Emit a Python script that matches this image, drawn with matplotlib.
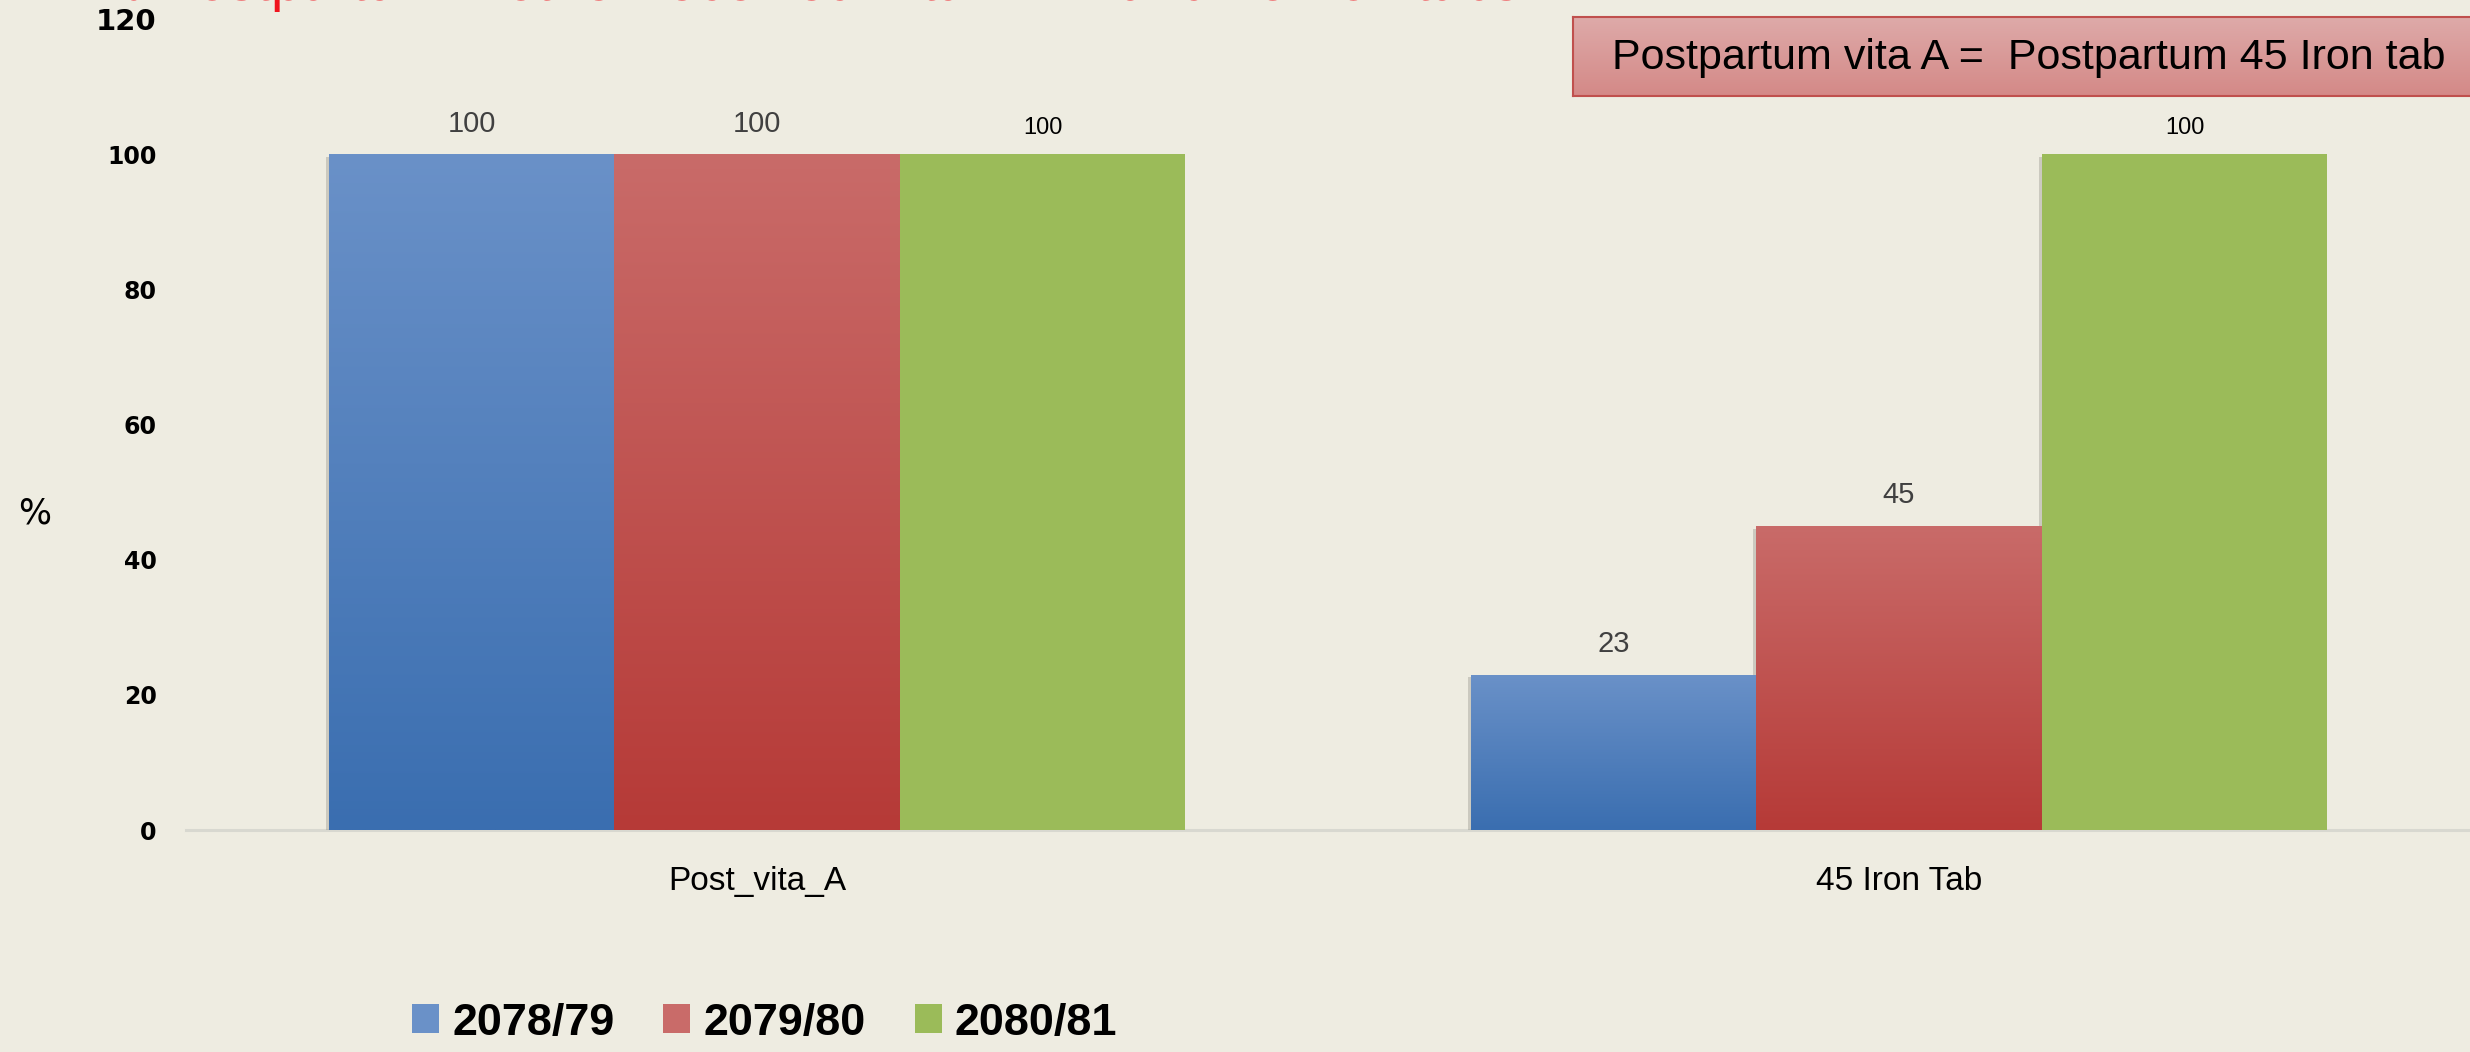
"""Postpartum vitamin A / 45 iron tab coverage by fiscal year - grouped bars."""

import numpy as np
import matplotlib
matplotlib.use("Agg")
import matplotlib.pyplot as plt
from matplotlib.colors import LinearSegmentedColormap
from matplotlib.patches import Patch
import matplotlib.patheffects as pe

# === DATA ===
categories = ["Post_vita_A", "45 Iron Tab"]
years = ["2078/79", "2079/80", "2080/81"]
vals_7879 = [100, 23]
vals_7980 = [100, 45]
vals_8081 = [100, 100]
yticks = [0, 20, 40, 60, 80, 100, 120]
title = "4.  % Postpartum mother received Vitamin A and 45 Iron tabs."
note = "Postpartum vita A =  Postpartum 45 Iron tab"

# === STYLE ===
BG = "#EEECE1"
FONT = "Liberation Sans"
# (top, bottom) of each bar gradient; green is flat
GRAD = [("#6A91C8", "#3A6EB0"), ("#C96B69", "#B63A37"), ("#9BBB59", "#9BBB59")]
W, H = 2470, 1052

fig = plt.figure(figsize=(W / 100, H / 100), dpi=100, facecolor=BG)
ax = fig.add_axes([186 / W, 1 - 830 / H, (W - 186) / W, 811 / H])
ax.set_facecolor(BG)

x = np.arange(len(categories))
width = 0.25
series = [vals_7879, vals_7980, vals_8081]


def gradient_fill(bar, top, bottom):
    x0, y0 = bar.get_x(), bar.get_y()
    w, h = bar.get_width(), bar.get_height()
    cmap = LinearSegmentedColormap.from_list("g", [bottom, top])
    img = ax.imshow(np.linspace(0, 1, 256).reshape(-1, 1), cmap=cmap,
                    extent=[x0, x0 + w, y0, y0 + h], origin="lower",
                    aspect="auto", zorder=3, interpolation="bilinear")
    img.set_clip_path(bar)


shadow = [pe.SimplePatchShadow(offset=(-2, -2), shadow_rgbFace="#8a8a80", alpha=0.35),
          pe.Normal()]
for i, vals in enumerate(series):
    top, bottom = GRAD[i]
    bars = ax.bar(x + (i - 1) * width, vals, width, color=top, linewidth=0,
                  zorder=2, path_effects=shadow)
    for bar, v in zip(bars, vals):
        if top != bottom:
            gradient_fill(bar, top, bottom)
        if i == 2:
            ax.annotate(f"{v}", (bar.get_x() + bar.get_width() / 2, v),
                        xytext=(0, 19), textcoords="offset points", ha="center",
                        va="center", fontsize=17, family=FONT, color="black")
        else:
            ax.annotate(f"{v}", (bar.get_x() + bar.get_width() / 2, v),
                        xytext=(0, 22), textcoords="offset points", ha="center",
                        va="center", fontsize=21, family=FONT, color="#404040")

ax.set_xlim(-0.5, 1.5)
ax.set_ylim(0, 120)
ax.set_xticks(x)
ax.set_xticklabels(categories, family=FONT, fontsize=24)
ax.set_yticks(yticks)
ax.set_yticklabels([str(t) for t in yticks], family="DejaVu Sans",
                   fontweight="bold", fontsize=17)
ax.get_yticklabels()[-1].set_family("Liberation Sans Narrow")
ax.get_yticklabels()[-1].set_fontsize(21)
ax.tick_params(axis="y", length=0, pad=21)
ax.tick_params(axis="x", length=0, pad=26)
for s in ["top", "right", "left"]:
    ax.spines[s].set_visible(False)
ax.spines["bottom"].set_color("#D8D8D0")
ax.spines["bottom"].set_linewidth(2.2)
ax.spines["bottom"].set_zorder(1)

fig.text(35 / W, 1 - 513 / H, "%", family="DejaVu Sans", fontsize=25,
         ha="center", va="center")

# red heading, mostly cut off at the top edge (as in the source slide)
fig.text(18 / W, 1.0, title, family=FONT, fontsize=40,
         color="#F0141E", ha="left", va="baseline")

# note box top-right
bax = fig.add_axes([1573 / W, 1 - 96 / H, (W - 1573) / W + 0.01, 79 / H])
bax.imshow(np.linspace(0, 1, 256).reshape(-1, 1),
           cmap=LinearSegmentedColormap.from_list("b", ["#DEAAA9", "#D48987"]),
           aspect="auto", extent=[0, 1, 0, 1], interpolation="bilinear")
bax.set_xticks([])
bax.set_yticks([])
for s in bax.spines.values():
    s.set_color("#C0504D")
    s.set_linewidth(1.5)
fig.text(1612 / W, 1 - 58 / H, note, family=FONT, fontsize=31,
         ha="left", va="center", color="black")

handles = [Patch(facecolor=GRAD[i][0], edgecolor="none") for i in range(3)]
fig.legend(handles, years, loc="center left", bbox_to_anchor=(412 / W, 1 - 1023 / H),
           ncol=3, frameon=False, borderpad=0, borderaxespad=0,
           prop={"family": FONT, "weight": "bold", "size": 32.4},
           handlelength=0.6, handleheight=0.62, handletextpad=0.29,
           columnspacing=1.09)

fig.savefig("out.png", dpi=100, facecolor=BG)
